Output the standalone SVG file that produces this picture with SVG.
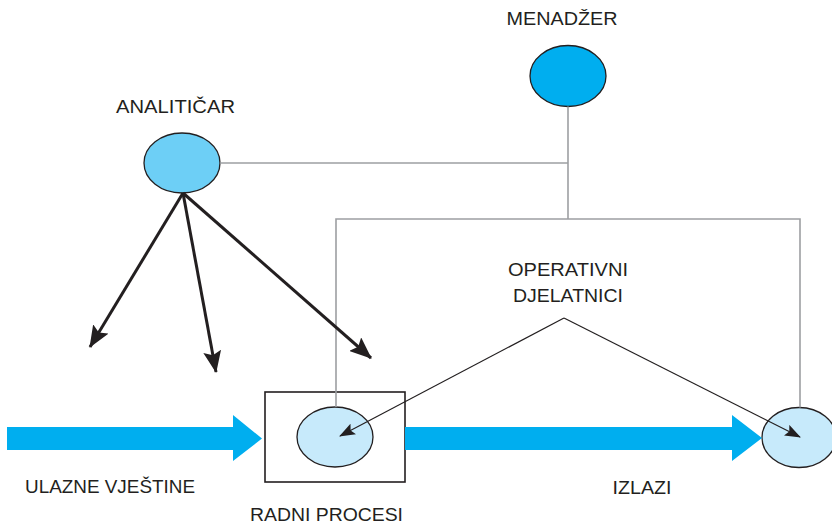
<svg xmlns="http://www.w3.org/2000/svg" width="832" height="524" viewBox="0 0 832 524">
<style>
.lbl{font-family:"Liberation Sans","DejaVu Sans",sans-serif;font-size:18px;fill:#231f20;text-anchor:middle}
.node{stroke:#231f20;stroke-width:1.3}
.gray{fill:none;stroke:#9d9fa2;stroke-width:1.6}
.thick{fill:none;stroke:#231f20;stroke-width:3}
.thin{fill:none;stroke:#231f20;stroke-width:1.2}
.flow{fill:#00aeef}
</style>
<defs>
<marker id="big" viewBox="0 0 22 18" refX="21" refY="9" markerWidth="22" markerHeight="18" markerUnits="userSpaceOnUse" orient="auto">
<path d="M0,0 L22,9 L0,18 L4,9 Z" fill="#231f20"/>
</marker>
<marker id="small" viewBox="0 0 16 12" refX="15" refY="6" markerWidth="16" markerHeight="12" markerUnits="userSpaceOnUse" orient="auto">
<path d="M0,0 L16,6 L0,12 L3,6 Z" fill="#231f20"/>
</marker>
</defs>
<rect width="832" height="524" fill="#ffffff"/>
<g id="menadzer">
<ellipse class="node" cx="568" cy="76" rx="38" ry="30.5" fill="#00aeef"/>
<text class="lbl" x="562" y="25" textLength="111" lengthAdjust="spacingAndGlyphs">MENADŽER</text>
</g>
<g id="analiticar">
<ellipse class="node" cx="182" cy="163" rx="38" ry="30" fill="#6dcff6"/>
<text class="lbl" x="175.5" y="113" textLength="119" lengthAdjust="spacingAndGlyphs">ANALITIČAR</text>
</g>
<g id="operativni">
<text class="lbl" x="568" y="276" textLength="120" lengthAdjust="spacingAndGlyphs">OPERATIVNI</text>
<text class="lbl" x="568" y="302" textLength="110" lengthAdjust="spacingAndGlyphs">DJELATNICI</text>
</g>
<g id="radni">
<rect x="265" y="392" width="140" height="90" fill="none" stroke="#231f20" stroke-width="1.6"/>
<ellipse class="node" cx="335" cy="437" rx="38" ry="30" fill="#c7eafb"/>
<text class="lbl" x="326.5" y="521" textLength="153" lengthAdjust="spacingAndGlyphs">RADNI PROCESI</text>
</g>
<g id="izlazi">
<ellipse class="node" cx="799" cy="437.5" rx="37" ry="30" fill="#c7eafb"/>
<text class="lbl" x="642" y="494" textLength="59" lengthAdjust="spacingAndGlyphs">IZLAZI</text>
</g>
<g id="ulazne">
<text class="lbl" x="110" y="493" textLength="170" lengthAdjust="spacingAndGlyphs">ULAZNE VJEŠTINE</text>
</g>
<g id="connectors">
<polyline class="gray" points="220,163 568,163"/>
<polyline class="gray" points="568,106.5 568,219"/>
<polyline class="gray" points="336,407 336,219 800,219 800,407.5"/>
<line class="thick" x1="183" y1="193" x2="90" y2="347" marker-end="url(#big)"/>
<line class="thick" x1="183" y1="193" x2="216" y2="372" marker-end="url(#big)"/>
<line class="thick" x1="183" y1="193" x2="371" y2="358" marker-end="url(#big)"/>
<polyline class="thin" points="564,318 340,436" marker-end="url(#small)"/>
<polyline class="thin" points="564,318 800,437" marker-end="url(#small)"/>
<path class="flow" d="M7,427 L233,427 L233,415 L262,438.5 L233,461 L233,450 L7,450 Z"/>
<path class="flow" d="M405,427 L732,427 L732,415 L762,438 L732,461 L732,450 L405,450 Z"/>
</g>
</svg>
